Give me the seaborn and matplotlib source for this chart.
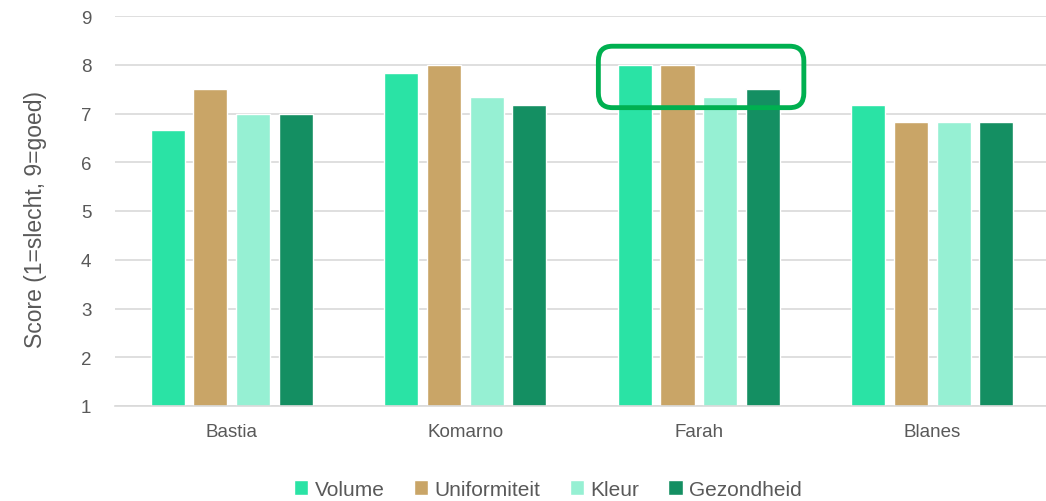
import pandas as pd
import seaborn as sns
import matplotlib.pyplot as plt
from matplotlib.patches import FancyBboxPatch

# data
locations = ['Bastia', 'Komarno', 'Farah', 'Blanes']
traits = ['Volume', 'Uniformiteit', 'Kleur', 'Gezondheid']
volume = [6.67, 7.83, 8.0, 7.17]
uniformiteit = [7.5, 8.0, 8.0, 6.83]
kleur = [7.0, 7.33, 7.33, 6.83]
gezondheid = [7.0, 7.17, 7.5, 6.83]

colors = ['#2AE3A5', '#C9A567', '#96F0D3', '#148F62']
text_gray = '#595959'
grid_gray = '#D9D9D9'

df = pd.DataFrame({'Locatie': locations, 'Volume': volume, 'Uniformiteit': uniformiteit,
                   'Kleur': kleur, 'Gezondheid': gezondheid})
long_df = df.melt(id_vars='Locatie', var_name='Kenmerk', value_name='Score')

sns.set_theme(style='white')
plt.rcParams['font.family'] = ['Liberation Sans', 'DejaVu Sans']

fig = plt.figure(figsize=(10.46, 5.02), dpi=100)
ax = fig.add_axes([115 / 1046, 95 / 502, 931 / 1046, 390 / 502])

sns.barplot(data=long_df, x='Locatie', y='Score', hue='Kenmerk', hue_order=traits,
            palette=colors, width=0.73, gap=0.2, ax=ax, saturation=1)
# axis starts at 1, so bars should start at 1 too
for cont in ax.containers:
    for p in cont:
        h = p.get_height()
        p.set_y(1)
        p.set_height(h - 1)

ax.set_ylim(1, 9)
ax.set_xlim(-0.5, 3.487)
ax.set_yticks(range(1, 10))
ax.yaxis.grid(True, color=grid_gray, linewidth=1.2)
ax.set_axisbelow(True)
for s in ['top', 'right', 'left']:
    ax.spines[s].set_visible(False)
ax.spines['bottom'].set_color(grid_gray)
ax.spines['bottom'].set_linewidth(1.2)
ax.tick_params(axis='both', length=0, colors=text_gray, labelsize=13.5)
ax.tick_params(axis='y', pad=17)
ax.tick_params(axis='x', pad=12)
ax.set_xlabel('')
ax.set_ylabel('Score (1=slecht, 9=goed)', fontsize=16.5, color=text_gray)
ax.yaxis.set_label_coords(-0.073, 0.482)

leg = ax.legend(loc='center', bbox_to_anchor=(0.465, -0.213), ncol=4, frameon=False,
                fontsize=15, handlelength=0.7, handleheight=0.7, handletextpad=0.3,
                columnspacing=1.4)
for t in leg.get_texts():
    t.set_color(text_gray)

# green highlight box around Farah
box = FancyBboxPatch((1.57, 7.12), 0.88, 1.26, boxstyle='round,pad=0,rounding_size=0.06',
                     transform=ax.transData, fill=False, edgecolor='#00B050',
                     linewidth=3.5, clip_on=False, mutation_aspect=5)
ax.add_patch(box)

fig.savefig('out.png', dpi=100)
